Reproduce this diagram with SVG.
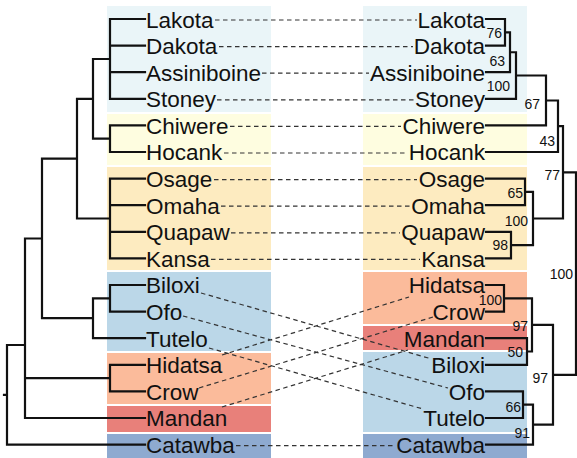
<svg xmlns="http://www.w3.org/2000/svg" width="577" height="458" viewBox="0 0 577 458">
  <style>
    .tree { fill: none; stroke: #111; stroke-width: 2.2; stroke-linejoin: miter; stroke-linecap: square; }
    .link { fill: none; stroke: #333; stroke-width: 1.2; stroke-dasharray: 4.5 3.5; }
    .taxon { font-family: "Liberation Sans", Arial, Helvetica, sans-serif; font-size: 22.5px; fill: #111; }
    .right { text-anchor: end; }
    .support { font-family: "Liberation Sans", Arial, Helvetica, sans-serif; font-size: 14px; fill: #111; text-anchor: end; }
    .lb { fill: #EAF5F8; }
    .yl { fill: #FEFDE0; }
    .og { fill: #FDEBC0; }
    .bl { fill: #BBD7E8; }
    .sa { fill: #FBBB9B; }
    .rd { fill: #E8807A; }
    .db { fill: #8EAAD0; }
  </style>

  <rect width="577" height="458" fill="#fff"/>

  <!-- colour bands behind the taxon labels -->
  <g id="bands-left">
    <rect class="lb" x="107" y="6" width="164" height="106"/>
    <rect class="yl" x="107" y="114" width="164" height="51"/>
    <rect class="og" x="107" y="167" width="164" height="103"/>
    <rect class="bl" x="107" y="272" width="164" height="79"/>
    <rect class="sa" x="107" y="353" width="164" height="51"/>
    <rect class="rd" x="107" y="406" width="164" height="26"/>
    <rect class="db" x="107" y="434" width="164" height="24"/>
  </g>
  <g id="bands-right">
    <rect class="lb" x="363" y="6" width="164" height="106"/>
    <rect class="yl" x="363" y="114" width="164" height="51"/>
    <rect class="og" x="363" y="167" width="164" height="103"/>
    <rect class="sa" x="363" y="272" width="164" height="52"/>
    <rect class="rd" x="363" y="326" width="164" height="24"/>
    <rect class="bl" x="363" y="352" width="164" height="80"/>
    <rect class="db" x="363" y="434" width="164" height="24"/>
  </g>

  <g id="connectors">
    <!-- left tree -->
    <path class="tree" d="M110,19 H145 M110,45.6 H145 M110,72.2 H145 M110,98.8 H145 M110,19 V98.8
                          M110,125.4 H145 M110,152 H145 M110,125.4 V152
                          M110,178.6 H145 M110,205.2 H145 M110,231.8 H145 M110,258.4 H145 M110,178.6 V258.4
                          M110,285 H145 M110,311.6 H145 M110,285 V311.6
                          M110,364.8 H145 M110,391.4 H145 M110,364.8 V391.4
                          M93,59 H110 M93,138.7 H110 M93,59 V138.7
                          M77,98.85 H93 M77,218.5 H110 M77,98.85 V218.5
                          M93,298.3 H110 M93,338.2 H145 M93,298.3 V338.2
                          M42,158.7 H77 M42,318.2 H93 M42,158.7 V318.2
                          M25,238.5 H42 M25,378.1 H110 M25,418 H145 M25,238.5 V418
                          M7,345 H25 M7,444.6 H145 M7,345 V444.6 M4,394.8 H7"/>
    <!-- right tree -->
    <path class="tree" d="M486,19 H505 M486,45.6 H505 M505,19 V45.6
                          M505,32.3 H510 M486,72.2 H510 M510,32.3 V72.2
                          M510,52.25 H516 M486,98.8 H516 M516,52.25 V98.8
                          M516,75.5 H546 M486,125.4 H546 M546,75.5 V125.4
                          M546,100.5 H558 M486,152 H558 M558,100.5 V152
                          M558,126.2 H563 M563,126.2 V218.5
                          M486,178.6 H525 M486,205.2 H525 M525,178.6 V205.2 M525,191.9 H533
                          M486,231.8 H511 M486,258.4 H511 M511,231.8 V258.4 M511,245.1 H533
                          M533,191.9 V245.1 M533,218.5 H563
                          M563,172.4 H576
                          M486,285 H504 M486,311.6 H504 M504,285 V311.6 M504,298.3 H532
                          M486,338.2 H527 M486,364.8 H527 M527,338.2 V364.8 M527,351.5 H532
                          M532,298.3 V351.5 M532,324.9 H553
                          M486,391.4 H523 M486,418 H523 M523,391.4 V418 M523,404.7 H533
                          M486,444.6 H533 M533,404.7 V444.6 M533,424.65 H553
                          M553,324.9 V424.65 M553,374.8 H576
                          M576,172.4 V374.8"/>
    <!-- dashed links joining the same language in both trees -->
    <path class="link" d="M215,20 H417 M219,46.6 H413 M262,73.2 H369 M217,99.8 H414
                          M230,126.4 H401 M224,153 H407
                          M214,179.6 H417 M221,206.2 H410 M231,232.8 H400 M211,259.4 H420
                          M236,445.6 H395"/>
    <path class="link" d="M201,293 L430,358.5 M183,316 L448,388 M209,348 L423,409
                          M222,355 L409,297 M199,388 L433,317 M222,407 L408,350"/>
  </g>

  <!-- left tree taxa -->
  <g id="L-lakota"><text class="taxon" x="146" y="27.5">Lakota</text></g>
  <g id="L-dakota"><text class="taxon" x="146" y="54">Dakota</text></g>
  <g id="L-assiniboine"><text class="taxon" x="146" y="80.5">Assiniboine</text></g>
  <g id="L-stoney"><text class="taxon" x="146" y="107">Stoney</text></g>
  <g id="L-chiwere"><text class="taxon" x="146" y="133.5">Chiwere</text></g>
  <g id="L-hocank"><text class="taxon" x="146" y="160">Hocank</text></g>
  <g id="L-osage"><text class="taxon" x="146" y="187">Osage</text></g>
  <g id="L-omaha"><text class="taxon" x="146" y="213.5">Omaha</text></g>
  <g id="L-quapaw"><text class="taxon" x="146" y="240">Quapaw</text></g>
  <g id="L-kansa"><text class="taxon" x="146" y="266.5">Kansa</text></g>
  <g id="L-biloxi"><text class="taxon" x="146" y="293">Biloxi</text></g>
  <g id="L-ofo"><text class="taxon" x="146" y="320">Ofo</text></g>
  <g id="L-tutelo"><text class="taxon" x="146" y="346.5">Tutelo</text></g>
  <g id="L-hidatsa"><text class="taxon" x="146" y="373">Hidatsa</text></g>
  <g id="L-crow"><text class="taxon" x="146" y="399.5">Crow</text></g>
  <g id="L-mandan"><text class="taxon" x="146" y="426">Mandan</text></g>
  <g id="L-catawba"><text class="taxon" x="146" y="453">Catawba</text></g>

  <!-- right tree taxa -->
  <g id="R-lakota"><text class="taxon right" x="485" y="27.5">Lakota</text></g>
  <g id="R-dakota"><text class="taxon right" x="485" y="54">Dakota</text></g>
  <g id="R-assiniboine"><text class="taxon right" x="485" y="80.5">Assiniboine</text></g>
  <g id="R-stoney"><text class="taxon right" x="485" y="107">Stoney</text></g>
  <g id="R-chiwere"><text class="taxon right" x="485" y="133.5">Chiwere</text></g>
  <g id="R-hocank"><text class="taxon right" x="485" y="160">Hocank</text></g>
  <g id="R-osage"><text class="taxon right" x="485" y="187">Osage</text></g>
  <g id="R-omaha"><text class="taxon right" x="485" y="213.5">Omaha</text></g>
  <g id="R-quapaw"><text class="taxon right" x="485" y="240">Quapaw</text></g>
  <g id="R-kansa"><text class="taxon right" x="485" y="266.5">Kansa</text></g>
  <g id="R-hidatsa"><text class="taxon right" x="485" y="293">Hidatsa</text></g>
  <g id="R-crow"><text class="taxon right" x="485" y="320">Crow</text></g>
  <g id="R-mandan"><text class="taxon right" x="485" y="346.5">Mandan</text></g>
  <g id="R-biloxi"><text class="taxon right" x="485" y="373">Biloxi</text></g>
  <g id="R-ofo"><text class="taxon right" x="485" y="399.5">Ofo</text></g>
  <g id="R-tutelo"><text class="taxon right" x="485" y="426">Tutelo</text></g>
  <g id="R-catawba"><text class="taxon right" x="485" y="453">Catawba</text></g>

  <!-- bootstrap support values on the right tree -->
  <g id="support">
    <text class="support" x="502" y="38">76</text>
    <text class="support" x="505" y="66">63</text>
    <text class="support" x="510" y="91">100</text>
    <text class="support" x="540" y="109">67</text>
    <text class="support" x="555" y="146">43</text>
    <text class="support" x="560" y="180">77</text>
    <text class="support" x="523" y="198">65</text>
    <text class="support" x="528" y="226">100</text>
    <text class="support" x="508" y="250">98</text>
    <text class="support" x="573" y="279">100</text>
    <text class="support" x="502" y="305">100</text>
    <text class="support" x="528" y="331">97</text>
    <text class="support" x="523" y="357">50</text>
    <text class="support" x="548" y="383">97</text>
    <text class="support" x="521" y="412">66</text>
    <text class="support" x="530" y="438">91</text>
  </g>
</svg>
